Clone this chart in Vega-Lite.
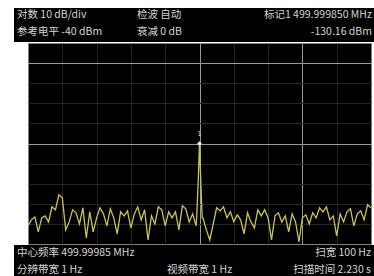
{
  "$schema": "https://vega.github.io/schema/vega-lite/v6.json",
  "background": "white",
  "padding": {"left": 14, "top": 8, "right": 0, "bottom": 0},
  "spacing": 0,
  "config": {
    "view": {"fill": "black", "stroke": null},
    "concat": {"spacing": 0},
    "text": {"font": "Noto Sans CJK SC", "fontSize": 10.5, "color": "#d4d4d4"}
  },
  "datasets": {
    "header": [
      {"line": 1, "col": 0, "side": "L", "label": "对数 10 dB/div"},
      {"line": 1, "col": 4, "side": "L", "label": "检波 自动"},
      {"line": 1, "col": 12, "side": "R", "label": "标记1 499.999850 MHz"},
      {"line": 2, "col": 0, "side": "L", "label": "参考电平 -40 dBm"},
      {"line": 2, "col": 4, "side": "L", "label": "衰减 0 dB"},
      {"line": 2, "col": 12, "side": "R", "label": "-130.16 dBm"}
    ],
    "footer": [
      {"line": 1, "col": 0, "side": "L", "label": "中心频率 499.99985 MHz"},
      {"line": 1, "col": 12, "side": "R", "label": "扫宽 100 Hz"},
      {"line": 2, "col": 0, "side": "L", "label": "分辨带宽 1 Hz"},
      {"line": 2, "col": 5, "side": "L", "label": "视频带宽 1 Hz"},
      {"line": 2, "col": 12, "side": "R", "label": "扫描时间 2.230 s"}
    ],
    "marker": [{"f": 0, "db": -90, "label": "1"}],
    "trace": [
      {"f": -50, "db": -131}, {"f": -49, "db": -128}, {"f": -48, "db": -126.5}, {"f": -47, "db": -134},
      {"f": -46, "db": -127}, {"f": -45, "db": -126}, {"f": -44, "db": -129}, {"f": -43, "db": -121.5},
      {"f": -42, "db": -123}, {"f": -41, "db": -115.5}, {"f": -40, "db": -117}, {"f": -39, "db": -133},
      {"f": -38, "db": -129}, {"f": -37, "db": -123}, {"f": -36, "db": -124.5}, {"f": -35, "db": -130},
      {"f": -34, "db": -122}, {"f": -33, "db": -137}, {"f": -32, "db": -124}, {"f": -31, "db": -134},
      {"f": -30, "db": -127}, {"f": -29, "db": -122}, {"f": -28, "db": -125}, {"f": -27, "db": -131},
      {"f": -26, "db": -122.5}, {"f": -25, "db": -127}, {"f": -24, "db": -135}, {"f": -23, "db": -124},
      {"f": -22, "db": -126}, {"f": -21, "db": -123.5}, {"f": -20, "db": -132}, {"f": -19, "db": -125},
      {"f": -18, "db": -121.5}, {"f": -17, "db": -128}, {"f": -16, "db": -123}, {"f": -15, "db": -138},
      {"f": -14, "db": -126}, {"f": -13, "db": -130}, {"f": -12, "db": -121.5}, {"f": -11, "db": -123},
      {"f": -10, "db": -131}, {"f": -9, "db": -124}, {"f": -8, "db": -127}, {"f": -7, "db": -124},
      {"f": -6, "db": -133}, {"f": -5, "db": -121}, {"f": -4, "db": -122.5}, {"f": -3, "db": -129},
      {"f": -2, "db": -125}, {"f": -1, "db": -131}, {"f": -0.8, "db": -126}, {"f": -0.4, "db": -110},
      {"f": 0, "db": -90}, {"f": 0.4, "db": -110}, {"f": 0.8, "db": -127},
      {"f": 1, "db": -127}, {"f": 2, "db": -133}, {"f": 3, "db": -138}, {"f": 4, "db": -130},
      {"f": 5, "db": -122}, {"f": 6, "db": -123.5}, {"f": 7, "db": -121.5}, {"f": 8, "db": -127},
      {"f": 9, "db": -124}, {"f": 10, "db": -129}, {"f": 11, "db": -125.5}, {"f": 12, "db": -128},
      {"f": 13, "db": -135}, {"f": 14, "db": -124.5}, {"f": 15, "db": -129}, {"f": 16, "db": -132},
      {"f": 17, "db": -123}, {"f": 18, "db": -126}, {"f": 19, "db": -123}, {"f": 20, "db": -127},
      {"f": 21, "db": -138}, {"f": 22, "db": -126}, {"f": 23, "db": -124.5}, {"f": 24, "db": -129},
      {"f": 25, "db": -126}, {"f": 26, "db": -134}, {"f": 27, "db": -125}, {"f": 28, "db": -129},
      {"f": 29, "db": -139}, {"f": 30, "db": -127}, {"f": 31, "db": -125.5}, {"f": 32, "db": -130},
      {"f": 33, "db": -124.5}, {"f": 34, "db": -127}, {"f": 35, "db": -122}, {"f": 36, "db": -124},
      {"f": 37, "db": -121.5}, {"f": 38, "db": -128}, {"f": 39, "db": -126}, {"f": 40, "db": -136},
      {"f": 41, "db": -125}, {"f": 42, "db": -129}, {"f": 43, "db": -124}, {"f": 44, "db": -122.5},
      {"f": 45, "db": -131}, {"f": 46, "db": -125}, {"f": 47, "db": -123.5}, {"f": 48, "db": -128},
      {"f": 49, "db": -120.5}, {"f": 50, "db": -122}
    ]
  },
  "vconcat": [
    {
      "width": 360,
      "height": 34,
      "data": {"name": "header"},
      "encoding": {
        "x": {"field": "col", "type": "quantitative", "scale": {"domain": [0, 12], "nice": false, "zero": false}, "axis": null},
        "y": {"field": "line", "type": "ordinal", "scale": {"type": "point", "padding": 0.5}, "axis": null},
        "text": {"field": "label"}
      },
      "layer": [
        {"transform": [{"filter": "datum.side === 'L'"}], "mark": {"type": "text", "align": "left", "baseline": "middle", "dx": 3, "dy": -1.5}},
        {"transform": [{"filter": "datum.side === 'R'"}], "mark": {"type": "text", "align": "right", "baseline": "middle", "dx": -2, "dy": -1.5}}
      ]
    },
    {
      "spacing": 0,
      "hconcat": [
        {"width": 13, "height": 201, "data": {"values": [{}]}, "mark": {"type": "point", "opacity": 0}},
        {
          "width": 343,
          "height": 201,
          "view": {"stroke": "#808080", "strokeWidth": 1, "fill": "black"},
          "encoding": {
            "x": {"field": "f", "type": "quantitative", "scale": {"domain": [-50, 50], "nice": false, "zero": false},
              "axis": {"title": null, "labels": false, "ticks": false, "domain": false, "grid": true,
                "values": [-40, -30, -20, -10, 0, 10, 20, 30, 40],
                "gridColor": {"condition": {"test": "datum.value === 0 || datum.value === 30", "value": "#9a9a9a"}, "value": "#262626"},
                "gridWidth": 1, "minExtent": 0, "maxExtent": 0}},
            "y": {"field": "db", "type": "quantitative", "scale": {"domain": [-140, -40], "nice": false, "zero": false},
              "axis": {"title": null, "labels": false, "ticks": false, "domain": false, "grid": true,
                "values": [-130, -120, -110, -100, -90, -80, -70, -60, -50],
                "gridColor": {"condition": {"test": "datum.value === -90 || datum.value === -50", "value": "#9a9a9a"}, "value": "#262626"},
                "gridWidth": 1, "minExtent": 0, "maxExtent": 0}}
          },
          "layer": [
            {"data": {"name": "trace"}, "mark": {"type": "line", "color": "#cac25a", "strokeWidth": 1.3, "clip": true}},
            {"data": {"name": "marker"}, "mark": {"type": "point", "shape": "diamond", "filled": true, "color": "white", "size": 22, "opacity": 1}},
            {"data": {"name": "marker"}, "mark": {"type": "text", "fontSize": 7, "dy": -10, "color": "#cccccc", "font": "DejaVu Sans"}, "encoding": {"text": {"field": "label"}}}
          ]
        },
        {"width": 4, "height": 201, "data": {"values": [{}]}, "mark": {"type": "point", "opacity": 0}}
      ]
    },
    {
      "width": 360,
      "height": 33,
      "data": {"name": "footer"},
      "encoding": {
        "x": {"field": "col", "type": "quantitative", "scale": {"domain": [0, 12], "nice": false, "zero": false}, "axis": null},
        "y": {"field": "line", "type": "ordinal", "scale": {"type": "point", "padding": 0.5}, "axis": null},
        "text": {"field": "label"}
      },
      "layer": [
        {"transform": [{"filter": "datum.side === 'L'"}], "mark": {"type": "text", "align": "left", "baseline": "middle", "dx": 3, "dy": 0}},
        {"transform": [{"filter": "datum.side === 'R'"}], "mark": {"type": "text", "align": "right", "baseline": "middle", "dx": -3, "dy": 0}}
      ]
    }
  ]
}
